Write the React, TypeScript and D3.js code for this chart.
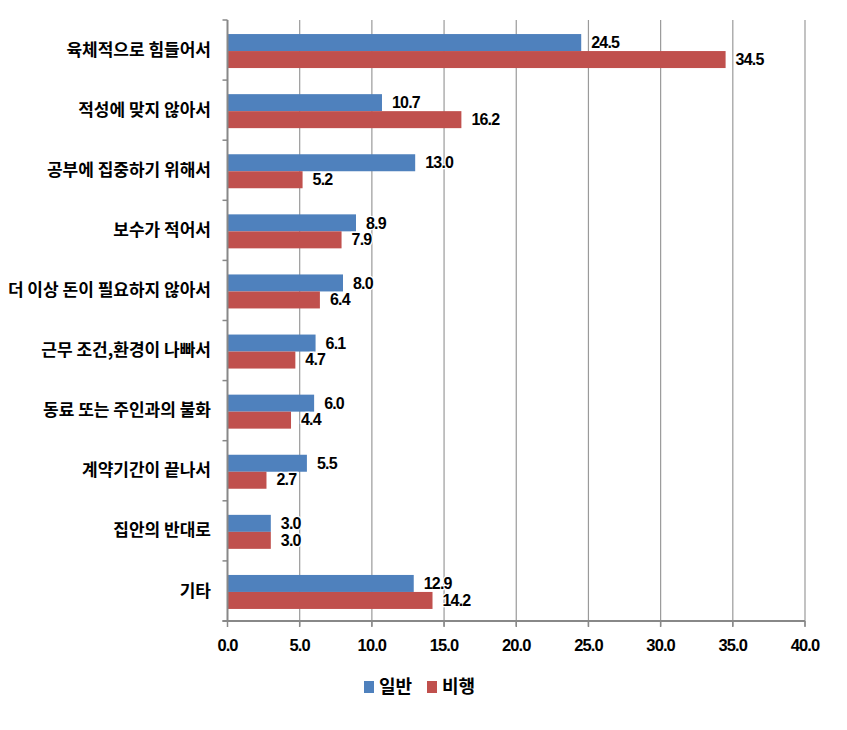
import React from "react";
import * as d3 from "d3";

const categories = [
  "육체적으로 힘들어서",
  "적성에 맞지 않아서",
  "공부에 집중하기 위해서",
  "보수가 적어서",
  "더 이상 돈이 필요하지 않아서",
  "근무 조건,환경이 나빠서",
  "동료 또는 주인과의 불화",
  "계약기간이 끝나서",
  "집안의 반대로",
  "기타",
];
const generalValues = [24.5, 10.7, 13.0, 8.9, 8.0, 6.1, 6.0, 5.5, 3.0, 12.9];
const delinquentValues = [34.5, 16.2, 5.2, 7.9, 6.4, 4.7, 4.4, 2.7, 3.0, 14.2];
const seriesNames = ["일반", "비행"];
const xTicks = [0, 5, 10, 15, 20, 25, 30, 35, 40];

const colors = ["#4F81BD", "#C0504D"];
const font = "'Noto Sans CJK KR', 'Noto Sans', sans-serif";
const numFont = "'Liberation Sans', 'DejaVu Sans', sans-serif";

export default function App() {
  const W = 847, H = 730;
  const left = 227.5, right = 805, top = 20, bottom = 621;
  const x = d3.scaleLinear().domain([0, 40]).range([left, right]);
  const y = d3.scaleBand().domain(categories).range([top, bottom]).paddingInner(0).paddingOuter(0);
  const band = y.bandwidth();
  const barH = 17;
  const series = [generalValues, delinquentValues];

  return (
    <svg width={W} height={H} style={{ position: "absolute", left: 0, top: 0 }} fontFamily={font}>
      <rect width={W} height={H} fill="#fff" />
      {/* gridlines */}
      {xTicks.slice(1).map((t) => (
        <line key={"g" + t} x1={x(t)} x2={x(t)} y1={top} y2={bottom + 5} stroke="#9a9a9a" strokeWidth={1.2} />
      ))}
      {/* bars */}
      {categories.map((c, i) => {
        const cy = (y(c) as number) + band / 2 + 1;
        return (
          <g key={c}>
            {series.map((vals, s) => {
              const by = cy - barH + s * barH;
              return (
                <g key={s}>
                  <rect x={x(0)} y={by} width={x(vals[i]) - x(0)} height={barH} fill={colors[s]} />
                  <text
                    x={x(vals[i]) + 10}
                    y={by + barH / 2 + (s === 0 ? 1.5 : 1)}
                    dominantBaseline="middle"
                    fontSize={16}
                    fontWeight="bold"
                    fill="#000"
                    fontFamily={numFont}
                    letterSpacing={-0.8}
                    stroke="#fff"
                    strokeWidth={2.5}
                    paintOrder="stroke"
                  >
                    {vals[i].toFixed(1)}
                  </text>
                </g>
              );
            })}
            <text
              x={211}
              y={cy}
              textAnchor="end"
              dominantBaseline="middle"
              fontSize={17}
              fontWeight="bold"
              fill="#000"
            >
              {c}
            </text>
          </g>
        );
      })}
      {/* y axis */}
      <line x1={left} x2={left} y1={top} y2={bottom} stroke="#888" strokeWidth={2} />
      {d3.range(categories.length + 1).map((k) => {
        const ty = top + k * band;
        return <line key={"yt" + k} x1={left - 5} x2={left} y1={ty} y2={ty} stroke="#888" strokeWidth={1.5} />;
      })}
      {/* x axis */}
      <line x1={left - 5} x2={right} y1={bottom} y2={bottom} stroke="#888" strokeWidth={2} />
      {xTicks.map((t) => (
        <g key={"xt" + t}>
          <line x1={x(t)} x2={x(t)} y1={bottom} y2={bottom + 6} stroke="#888" strokeWidth={1.5} />
          <text
            x={x(t)}
            y={647}
            textAnchor="middle"
            dominantBaseline="middle"
            fontSize={16.5}
            fontWeight="bold"
            fill="#000"
            fontFamily={numFont}
            letterSpacing={-0.9}
          >
            {t.toFixed(1)}
          </text>
        </g>
      ))}
      {/* legend */}
      {seriesNames.map((n, s) => {
        const lx = s === 0 ? 364 : 427;
        return (
          <g key={n}>
            <rect x={lx} y={681} width={10} height={12} fill={colors[s]} />
            <text x={lx + 15} y={688} dominantBaseline="middle" fontSize={18} fontWeight="bold" fill="#000">
              {n}
            </text>
          </g>
        );
      })}
    </svg>
  );
}
